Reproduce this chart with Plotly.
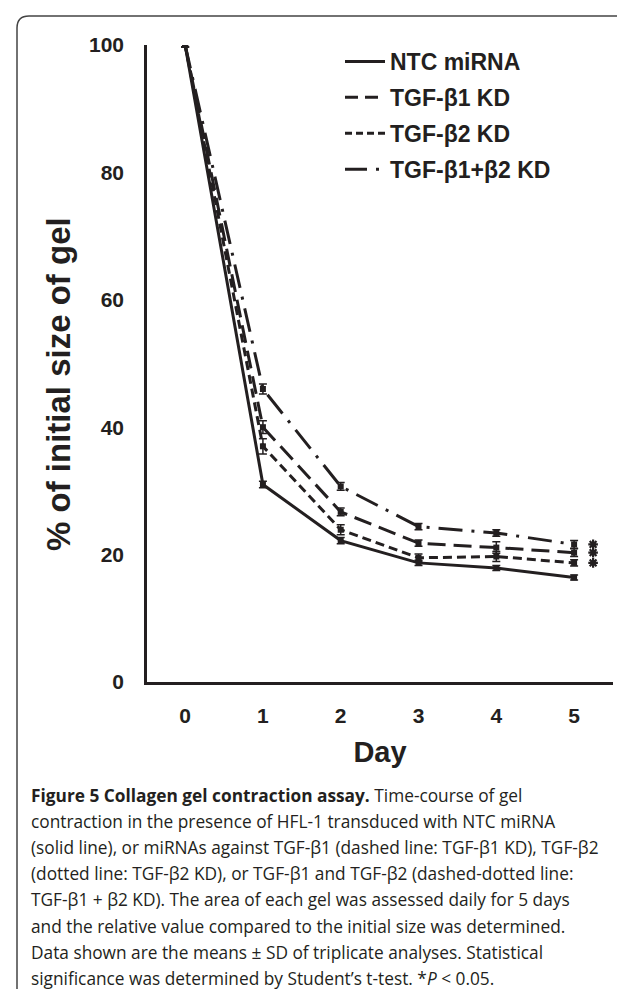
import plotly.graph_objects as go

# ---- data ----
days = [0, 1, 2, 3, 4, 5]
series_names = ["NTC miRNA", "TGF-β1 KD", "TGF-β2 KD", "TGF-β1+β2 KD"]
ntc = [100, 31.0, 22.2, 18.7, 17.9, 16.4]
b1_kd = [100, 40.0, 26.7, 21.8, 21.1, 20.3]
b2_kd = [100, 37.0, 23.9, 19.5, 19.7, 18.7]
b1b2_kd = [100, 46.0, 30.7, 24.4, 23.4, 21.6]
ntc_sd = [0.3, 0.5, 0.5, 0.4, 0.4, 0.4]
b1_sd = [0.3, 1.0, 0.6, 0.5, 0.9, 0.6]
b2_sd = [0.3, 1.2, 0.8, 0.6, 0.8, 0.5]
b1b2_sd = [0.3, 0.8, 0.6, 0.5, 0.5, 0.6]
significant = [False, True, True, True]
y_ticks = [0, 20, 40, 60, 80, 100]
x_ticks = [0, 1, 2, 3, 4, 5]
x_title = "Day"
y_title = "% of initial size of gel"

caption_lines = [
    "<b>Figure 5 Collagen gel contraction assay.</b> Time-course of gel",
    "contraction in the presence of HFL-1 transduced with NTC miRNA",
    "(solid line), or miRNAs against TGF-β1 (dashed line: TGF-β1 KD), TGF-β2",
    "(dotted line: TGF-β2 KD), or TGF-β1 and TGF-β2 (dashed-dotted line:",
    "TGF-β1 + β2 KD). The area of each gel was assessed daily for 5 days",
    "and the relative value compared to the initial size was determined.",
    "Data shown are the means ± SD of triplicate analyses. Statistical",
    "significance was determined by Student’s t-test. *<i>P</i> &lt; 0.05.",
]

# ---- layout geometry (pixels) ----
W, H = 625, 989
L, R, T, B = 139, 20, 37, 315
PW, PH = W - L - R, H - T - B
X_RANGE = [-0.49, 5.5]


def px_x(px):
    return (px - L) / PW


def px_y(py):
    return (H - B - py) / PH


values = [ntc, b1_kd, b2_kd, b1b2_kd]
sds = [ntc_sd, b1_sd, b2_sd, b1b2_sd]
dashes = ["solid", "18px,8px", "9px,5px", "24px,9px,3px,9px"]
legend_dashes = ["solid", "13px,7px", "7px,4px", "22px,9px,3px,9px"]
INK = "#231f20"
FONT = "Liberation Sans, Arial"

fig = go.Figure()
for name, v, sd, dsh in zip(series_names, values, sds, dashes):
    fig.add_trace(go.Scatter(
        x=days, y=v, mode="lines+markers", name=name, showlegend=False,
        line=dict(color=INK, width=3, dash=dsh),
        marker=dict(symbol="square", size=6, color=INK),
        error_y=dict(type="data", array=sd, visible=True, color=INK,
                     thickness=1.5, width=4),
    ))
for name, dsh in zip(series_names, legend_dashes):
    fig.add_trace(go.Scatter(
        x=[None], y=[None], mode="lines", name=name, legendgroup=name,
        line=dict(color=INK, width=3, dash=dsh),
    ))

# significance asterisks to the right of the day-5 points
star_offset = 19 * (X_RANGE[1] - X_RANGE[0]) / PW
star_y = [v[-1] for v, s in zip(values, significant) if s]
fig.add_trace(go.Scatter(
    x=[days[-1] + star_offset] * len(star_y), y=star_y, mode="markers",
    showlegend=False, hoverinfo="skip",
    marker=dict(symbol="asterisk-open", size=8, color=INK,
                line=dict(color=INK, width=2.2)),
))

annotations = [dict(
    x=px_x(50), y=px_y(376), xref="paper", yref="paper",
    xanchor="center", yanchor="middle", textangle=-90, showarrow=False,
    text=f"<b>{y_title}</b>", font=dict(family=FONT, size=33, color=INK),
)]
cap_y0, cap_dy = 787, 26.2
for i, line in enumerate(caption_lines):
    annotations.append(dict(
        x=px_x(21), y=px_y(cap_y0 + i * cap_dy), xref="paper", yref="paper",
        xanchor="left", yanchor="middle", text=line, showarrow=False,
        font=dict(family="Open Sans", size=17.3, color=INK),
    ))

# figure frame: left and top border with rounded top-left corner
x0, yt, r = px_x(9), px_y(8), 12
path = (f"M {x0},{px_y(H + 5)} L {x0},{px_y(8 + r)} "
        f"Q {x0},{yt} {px_x(9 + r)},{yt} L {px_x(W + 5)},{yt}")

fig.update_layout(
    width=W, height=H,
    margin=dict(l=L, r=R, t=T, b=B, pad=0),
    paper_bgcolor="white", plot_bgcolor="white",
    font=dict(family=FONT, color=INK),
    showlegend=True,
    legend=dict(
        x=px_x(332), y=px_y(32), xanchor="left", yanchor="top",
        bgcolor="rgba(0,0,0,0)", borderwidth=0,
        font=dict(family=FONT, size=23, color=INK, weight="bold"),
        tracegroupgap=3, itemwidth=40,
    ),
    xaxis=dict(
        range=X_RANGE, tickvals=x_ticks, showgrid=False, zeroline=False,
        showline=True, linecolor=INK, linewidth=2.5,
        ticks="outside", ticklen=0, ticklabelstandoff=13,
        tickfont=dict(size=21, family=FONT, weight="bold"),
        title=dict(text=f"<b>{x_title}</b>", font=dict(size=29), standoff=16),
    ),
    yaxis=dict(
        range=[0, 100], tickvals=y_ticks, showgrid=False, zeroline=False,
        showline=True, linecolor=INK, linewidth=2.5,
        ticks="outside", ticklen=0, ticklabelstandoff=16,
        tickfont=dict(size=21, family=FONT, weight="bold"),
    ),
    annotations=annotations,
    shapes=[dict(type="path", path=path, xref="paper", yref="paper",
                 line=dict(color="#444", width=1.5))],
)

fig.write_html("out.html")
